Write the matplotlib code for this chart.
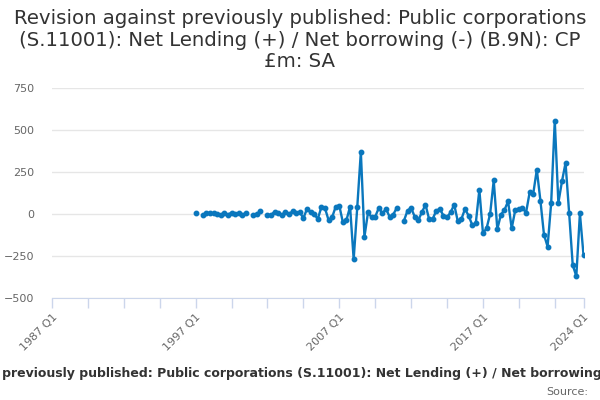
import matplotlib
matplotlib.use("Agg")
import matplotlib.pyplot as plt
import numpy as np

nan = np.nan

# revisions, quarterly from 1997 Q1 to 2024 Q1 (GBP m)
start_year = 1997
values = [
    5, nan, -8, 4,          # 1997
    8, 4, 2, -3,            # 1998
    3, -4, 8, 2,            # 1999
    3, -5, 6, nan,          # 2000
    -6, 0, 16, nan,         # 2001
    -5, -6, 14, 6,          # 2002
    -4, 10, 0, 16,          # 2003
    6, 10, -25, 30,         # 2004
    10, 0, -30, 40,         # 2005
    36, -36, -20, 44,       # 2006
    50, -50, -36, 44,       # 2007
    -270, 40, 370, -136,    # 2008
    10, -20, -16, 36,       # 2009
    4, 30, -16, -4,         # 2010
    36, nan, -40, 20,       # 2011
    36, -16, -36, 10,       # 2012
    56, -30, -30, 20,       # 2013
    30, -10, -20, 10,       # 2014
    56, -44, -30, 30,       # 2015
    -10, -64, -56, 144,     # 2016
    -114, -86, 0, 200,      # 2017
    -90, -4, 24, 76,        # 2018
    -86, 24, 32, 36,        # 2019
    8, 128, 120, 264,       # 2020
    80, -124, -194, 66,     # 2021
    556, 66, 194, 304,      # 2022
    6, -304, -370, 4,       # 2023
    -244,                   # 2024
]

first_year = 1987
last_year = 2024
label_years = [1987, 1997, 2007, 2017, 2024]
yticks = [-500, -250, 0, 250, 500, 750]

title = ("Revision against previously published: Public corporations\n"
         "(S.11001): Net Lending (+) / Net borrowing (-) (B.9N): CP\n"
         "£m: SA")
xlabel = ("Revision against previously published: Public corporations (S.11001): "
          "Net Lending (+) / Net borrowing (-) (B.9N): CP £m: SA")

n_total = (last_year - first_year) * 4 + 1
offset = (start_year - first_year) * 4
x = np.arange(len(values)) + offset
y = np.array(values, dtype=float)

fig = plt.figure(figsize=(6, 4), dpi=100)
ax = fig.add_axes([52 / 600, 1 - 298 / 400, (583.5 - 52) / 600, 210 / 400])

ax.plot(x, y, color='#0a77bd', linewidth=1.7, marker='o', markersize=3.2, zorder=3)

ax.set_xlim(0, n_total - 1)
ax.set_ylim(-500, 750)
ax.set_yticks(yticks)
ax.yaxis.grid(True, color='#e6e6e6', linewidth=1)
ax.set_axisbelow(True)

major = list(range(0, n_total, 10)) + [n_total - 1]
ax.set_xticks(major)
lab_pos = [(yr - first_year) * 4 for yr in label_years]
ax.set_xticklabels([f"{first_year + p // 4} Q1" if p in lab_pos else "" for p in major],
                   rotation=45, ha='right', rotation_mode='anchor')

for s in ['top', 'left', 'right']:
    ax.spines[s].set_visible(False)
ax.spines['bottom'].set_color('#ccd6eb')
ax.tick_params(axis='x', colors='#ccd6eb', length=7, width=1, labelcolor='#666666',
               labelsize=8, pad=3)
ax.tick_params(axis='y', length=0, labelcolor='#666666', labelsize=8, pad=13)

fig.text(0.5, 1 - 40 / 400, title, ha='center', va='center', fontsize=14.2,
         color='#333333', linespacing=1.17)
fig.text(318 / 600, 1 - 373 / 400, xlabel, ha='center', va='center', fontsize=9,
         fontweight='bold', color='#333333')
fig.text(588 / 600, 1 - 392 / 400, "Source:", ha='right', va='center', fontsize=8,
         color='#666666')

fig.savefig('out.png', dpi=100)
